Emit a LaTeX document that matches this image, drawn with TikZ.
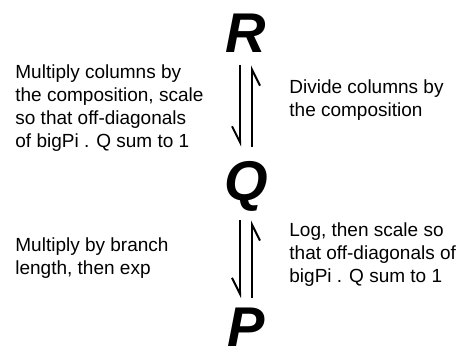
\documentclass[tikz,border=0pt]{standalone}
\usepackage{fontspec}
\setmainfont{Liberation Sans}
\usetikzlibrary{arrows.meta, positioning}

\begin{document}
\begin{tikzpicture}[
    x=0.5pt, y=-0.5pt,
    mat/.style={inner sep=0pt, anchor=base, font=\fontsize{28}{28}\selectfont\bfseries\itshape},
    note/.style={inner sep=0pt, anchor=west, align=left, font=\fontsize{9.5}{11.5}\selectfont},
    harp/.style={-{Straight Barb[harpoon, swap, length=8pt, width=8pt]}, line width=1pt}
]
\useasboundingbox (0,0) rectangle (465,354);

\node[mat] (R) at (246,52) {R};
\node[mat] (Q) at (246,200) {Q};
\node[mat] (P) at (246,346) {P};

\draw[harp, shorten <=6.5pt, shorten >=7pt] ([xshift=-3pt]R.south) -- ([xshift=-3pt]Q.north);
\draw[harp, shorten <=7pt, shorten >=6.5pt] ([xshift=3pt]Q.north) -- ([xshift=3pt]R.south);
\draw[harp, shorten <=4.5pt, shorten >=4.5pt] ([xshift=-3pt]Q.south) -- ([xshift=-3pt]P.north);
\draw[harp, shorten <=4.5pt, shorten >=4.5pt] ([xshift=3pt]P.north) -- ([xshift=3pt]Q.south);

\node[note] (mulcomp) at (15,108) {Multiply columns by\\the composition, scale\\so that off-diagonals\\of bigPi . Q sum to 1};
\node[note] (divcomp) at (289,100) {Divide columns by\\the composition};
\node[note] (mulexp) at (15,258) {Multiply by branch\\length, then exp};
\node[note] (logscale) at (289,255) {Log, then scale so\\that off-diagonals of\\bigPi . Q sum to 1};
\end{tikzpicture}
\end{document}
